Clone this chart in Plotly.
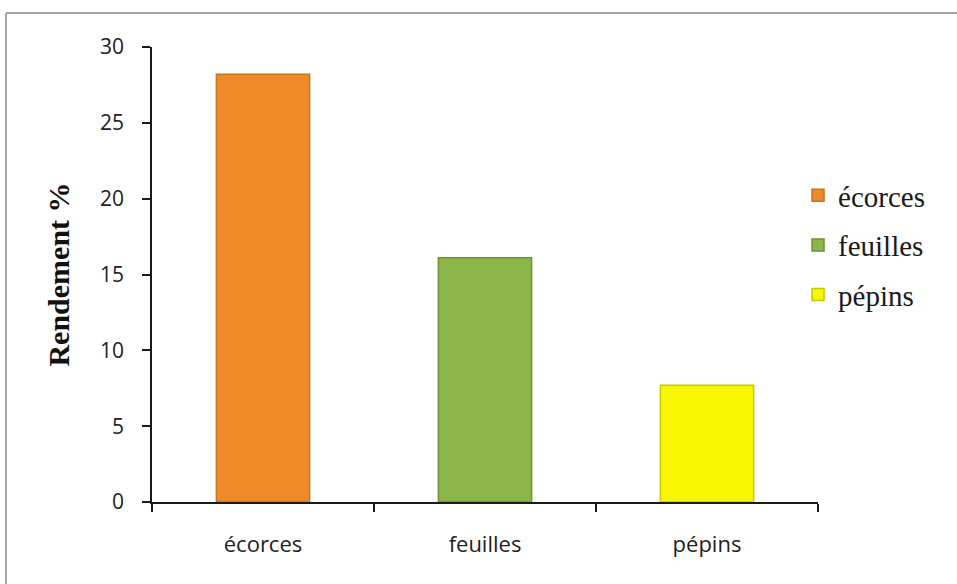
import plotly.graph_objects as go

# Rendement d'extraction par partie du fruit
categories = ["écorces", "feuilles", "pépins"]
rendement = [28.2, 16.1, 7.7]
fill_colors = ["#EF8A2A", "#8DB64A", "#F7F700"]
edge_colors = ["#C8741E", "#6F9235", "#C8C800"]
y_ticks = [0, 5, 10, 15, 20, 25, 30]

W, H = 957, 584
L, R, T, B = 152, 139, 47, 82

fig = go.Figure()
for i, (cat, val) in enumerate(zip(categories, rendement)):
    fig.add_trace(go.Bar(
        x=[cat], y=[val], name=cat,
        legendgroup=f"g{i}",
        width=0.42,
        marker=dict(color=fill_colors[i],
                    line=dict(color=edge_colors[i], width=1.5)),
    ))

pw = W - L - R
ph = H - T - B


def px_x(p):
    return (p - L) / pw


def px_y(p):
    return (H - B - p) / ph


# outer frame of the chart area (top and left edges)
frame = dict(color="#A6A6A6", width=2)
fig.add_shape(type="line", xref="paper", yref="paper",
              x0=px_x(6), x1=px_x(W + 5), y0=px_y(13), y1=px_y(13), line=frame)
fig.add_shape(type="line", xref="paper", yref="paper",
              x0=px_x(6), x1=px_x(6), y0=px_y(13), y1=px_y(H + 5), line=frame)

fig.update_layout(
    width=W, height=H,
    margin=dict(l=L, r=R, t=T, b=B),
    paper_bgcolor="white", plot_bgcolor="white",
    bargap=0.58,
    showlegend=True,
    legend=dict(x=0.97, y=0.73, xanchor="left", yanchor="top",
                font=dict(family="Liberation Serif", size=29, color="#1a1a1a"),
                tracegroupgap=9, itemwidth=30,
                bgcolor="rgba(0,0,0,0)"),
    xaxis=dict(
        categoryorder="array", categoryarray=categories,
        showline=True, linecolor="#1a1a1a", linewidth=1.5,
        ticks="outside", ticklen=8, tickcolor="#1a1a1a", tickwidth=1.5,
        tickson="boundaries", ticklabelstandoff=22,
        tickfont=dict(family="Open Sans", size=22, color="#222"),
        showgrid=False, zeroline=False,
    ),
    yaxis=dict(
        range=[0, 30], tickvals=y_ticks,
        showline=True, linecolor="#1a1a1a", linewidth=1.5,
        ticks="outside", ticklen=8, tickcolor="#1a1a1a", tickwidth=1.5,
        ticklabelstandoff=14,
        tickfont=dict(family="Open Sans", size=21, color="#222"),
        showgrid=False, zeroline=False,
        title=dict(text="<b>Rendement %</b>", standoff=22,
                   font=dict(family="Liberation Serif", size=30, color="#111")),
    ),
)

fig.write_html("out.html")
